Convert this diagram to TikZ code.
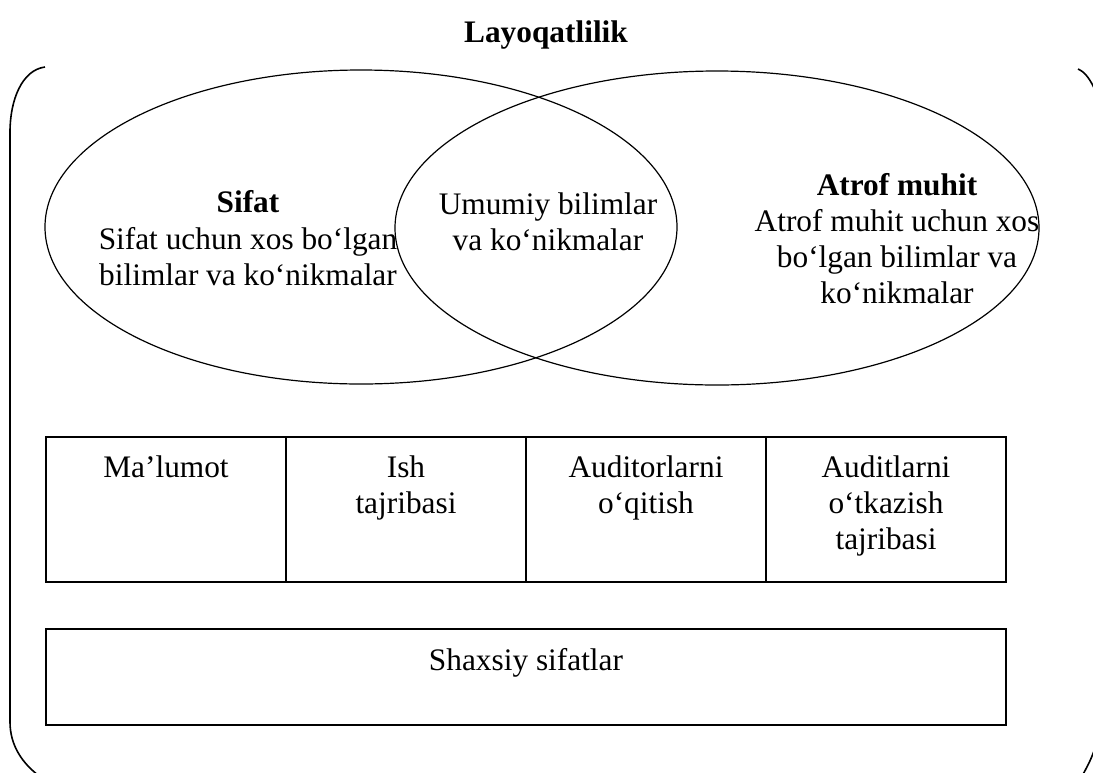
\documentclass[tikz,border=0pt]{standalone}
\usepackage{fontspec}
\setmainfont{Liberation Serif}
\usetikzlibrary{shapes.geometric}
\begin{document}
\begin{tikzpicture}[x=0.75pt,y=-0.75pt,
  txt/.style={inner sep=0pt,align=center,font=\fontsize{23.5}{27.5}\selectfont},
  celltxt/.style={txt,anchor=north,font=\fontsize{23.5}{27}\selectfont},
  oval/.style={draw,ellipse,line width=0.9pt,inner sep=0pt},
  cell/.style={draw,line width=1pt,inner sep=0pt,minimum width=180pt,minimum height=108.75pt},
  frame/.style={line width=1.2pt}]
\useasboundingbox (0,0) rectangle (1093,772);
\clip (0,0) rectangle (1093,772);

% title
\node[txt,anchor=north,font=\fontsize{23.5}{27.5}\selectfont\bfseries] (title) at (546,20) {Layoqatlilik};

% outer frame: left bracket and right corner arcs
\draw[frame] (45,67) .. controls (22,70) and (10,100) .. (10,132) -- (10,722)
   .. controls (10,745) and (22,764) .. (42,778);
\draw[frame] (1078,69) .. controls (1085,72) and (1090,79) .. (1095,90);
\draw[frame] (1095,748) .. controls (1091,760) and (1087,767) .. (1081,778);

% two overlapping ellipses
\node[oval,minimum width=474pt,minimum height=235.5pt] (quality) at (361,227) {};
\node[oval,minimum width=483pt,minimum height=235.5pt] (environment) at (717,228) {};

\node[txt,anchor=north] (qtext) at (248,190)
  {\textbf{Sifat}\\Sifat uchun xos bo‘lgan\\bilimlar va ko‘nikmalar};
\node[txt,anchor=north] (ctext) at (548,192)
  {Umumiy bilimlar\\va ko‘nikmalar};
\node[txt,anchor=north,font=\fontsize{23.5}{27}\selectfont] (etext) at (897,173)
  {\textbf{Atrof muhit}\\Atrof muhit uchun xos\\bo‘lgan bilimlar va\\ko‘nikmalar};

% row of four cells
\node[cell] (c1) at (166,509.5) {};
\node[cell] (c2) at (406,509.5) {};
\node[cell] (c3) at (646,509.5) {};
\node[cell] (c4) at (886,509.5) {};
\node[celltxt] (t1) at (166,455) {Ma’lumot};
\node[celltxt] (t2) at (406,455) {Ish\\tajribasi};
\node[celltxt] (t3) at (646,455) {Auditorlarni\\o‘qitish};
\node[celltxt] (t4) at (886,455) {Auditlarni\\o‘tkazish\\tajribasi};

% personal qualities
\node[draw,line width=1pt,inner sep=0pt,minimum width=720pt,minimum height=72pt] (personal) at (526,677) {};
\node[txt,anchor=north] (ptext) at (526,648) {Shaxsiy sifatlar};
\end{tikzpicture}
\end{document}
